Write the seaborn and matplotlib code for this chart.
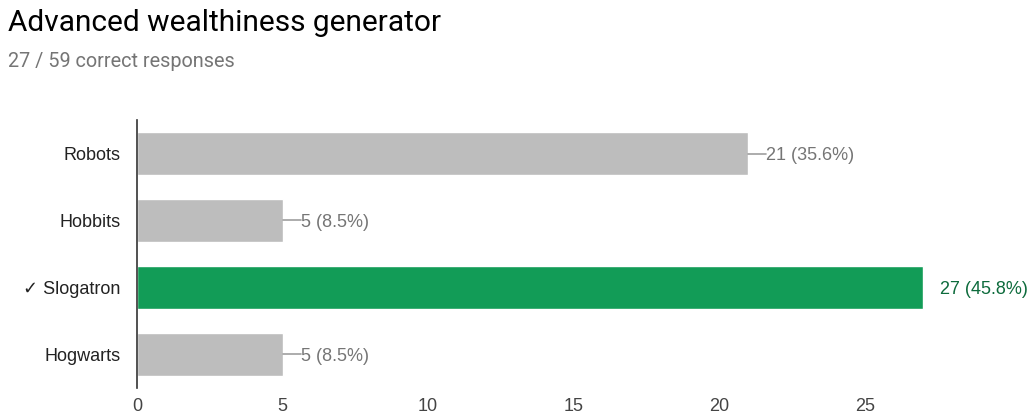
import matplotlib
matplotlib.use("Agg")
import matplotlib.pyplot as plt
import seaborn as sns
import pandas as pd

# Chart data
answers = ["Robots", "Hobbits", "Slogatron", "Hogwarts"]
counts = [21, 5, 27, 5]
correct = [False, False, True, False]
total_responses = 59
correct_responses = 27

GRAY = "#bdbdbd"
GREEN = "#129c57"

sns.set_theme(style="white")
plt.rcParams["font.family"] = ["Liberation Sans", "DejaVu Sans"]

labels = [("\u2713 " + a) if c else a for a, c in zip(answers, correct)]
df = pd.DataFrame({"label": labels, "count": counts,
                   "kind": ["correct" if c else "other" for c in correct]})

fig = plt.figure(figsize=(10.35, 4.19), dpi=100)
ax = fig.add_axes([0.1324, 0.074, 0.8436, 0.6396])

sns.barplot(data=df, x="count", y="label", hue="kind", orient="h",
            palette={"correct": GREEN, "other": GRAY}, dodge=False,
            width=0.63, legend=False, ax=ax, saturation=1)

ax.set_xlim(0, 30)
ax.set_ylim(3.5, -0.5)
ax.set_xticks([0, 5, 10, 15, 20, 25])
ax.set_xlabel("")
ax.set_ylabel("")
for s in ["top", "right", "bottom"]:
    ax.spines[s].set_visible(False)
ax.spines["left"].set_color("#333333")
ax.spines["left"].set_linewidth(1.2)
ax.tick_params(axis="y", length=0, pad=12, labelsize=13, labelcolor="#222222")
ax.tick_params(axis="x", length=0, pad=7, labelsize=13, labelcolor="#444444")

# value labels with short leader lines
for i, (n, c) in enumerate(zip(counts, correct)):
    pct = n / total_responses * 100
    txt = f"{n} ({pct:.1f}%)"
    if c:
        ax.text(n + 0.6, i, txt, va="center_baseline", ha="left", fontsize=13,
                color="#0d6b3c")
    else:
        ax.plot([n, n + 0.62], [i, i], color="#9e9e9e", lw=1.2)
        ax.text(n + 0.62, i, txt, va="center_baseline", ha="left", fontsize=13,
                color="#757575")

fig.text(0.0075, 0.926, "Advanced wealthiness generator", fontsize=21.5,
         family="Roboto", color="#000000", ha="left", va="baseline")
fig.text(0.0075, 0.84, f"{correct_responses} / {total_responses} correct responses",
         fontsize=14.3, family="Roboto", color="#757575", ha="left", va="baseline")

fig.savefig("out.png", dpi=100)
